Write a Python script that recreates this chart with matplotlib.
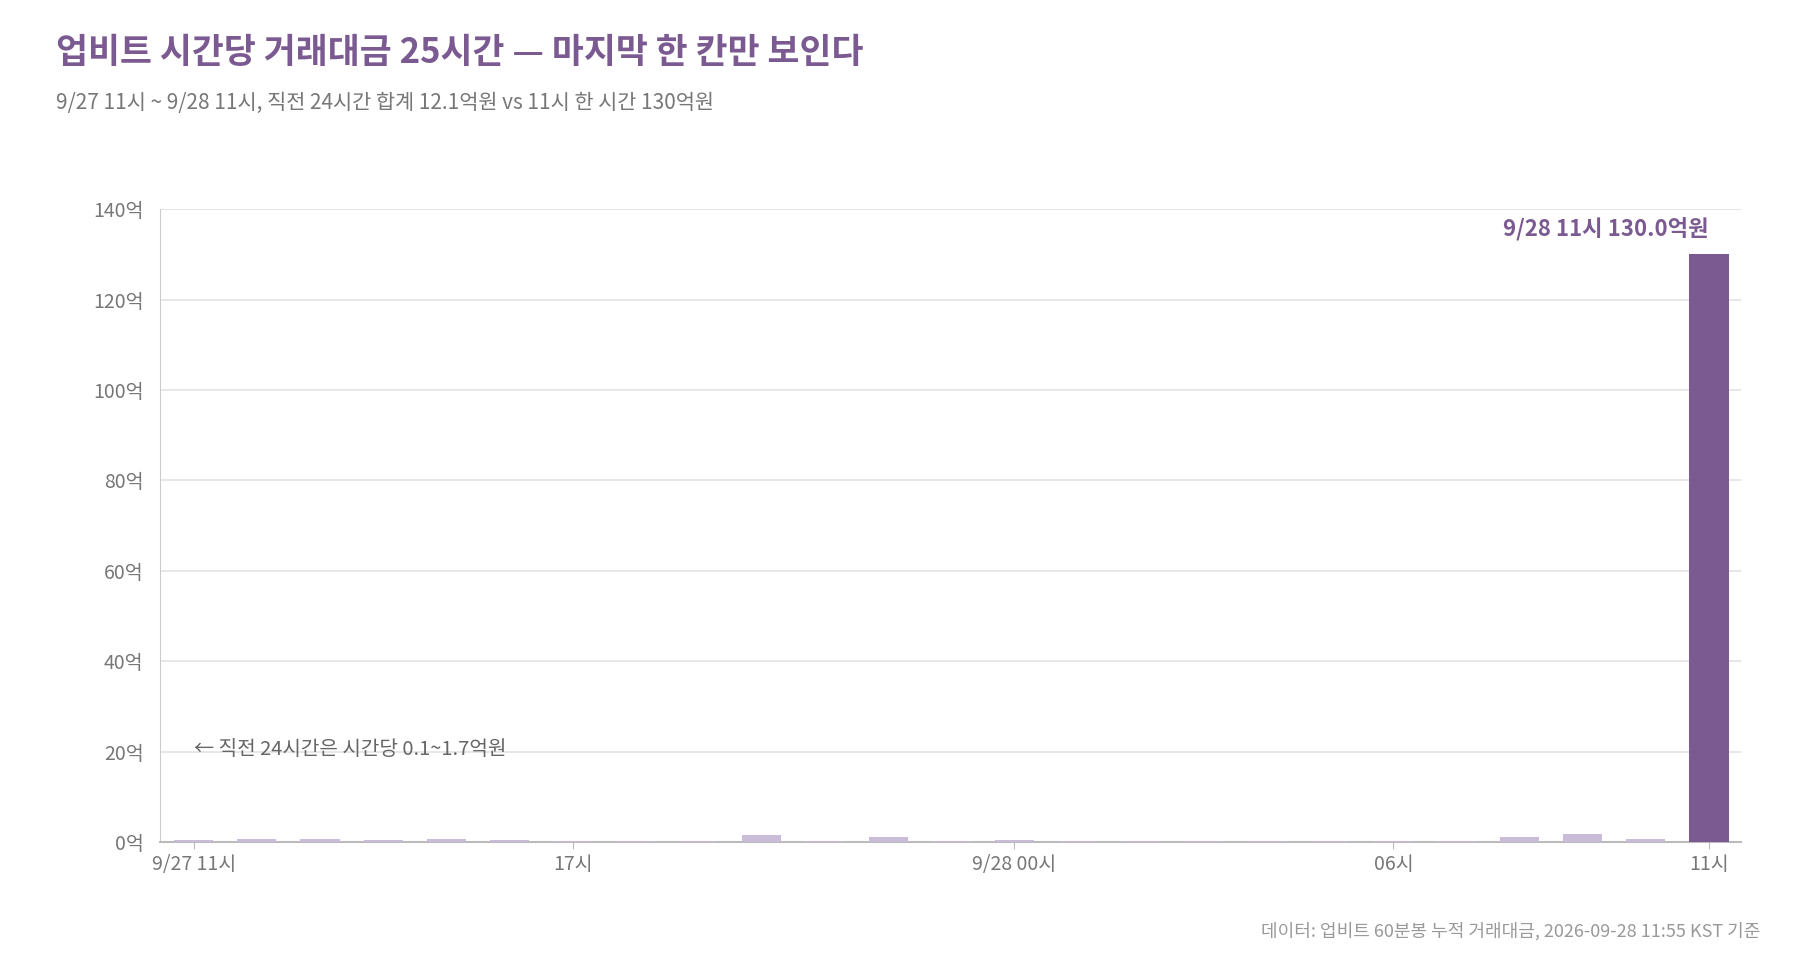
import matplotlib
matplotlib.use("Agg")
import matplotlib.pyplot as plt

plt.rcParams['font.family'] = ['Noto Sans CJK KR', 'DejaVu Sans']

hours = list(range(25))
values = [0.5, 0.7, 0.7, 0.4, 0.6, 0.4, 0.3, 0.3, 0.3, 1.5, 0.1, 1.1, 0.3, 0.5, 0.3,
          0.1, 0.1, 0.1, 0.1, 0.1, 0.3, 1.1, 1.7, 0.7, 130.0]
tick_pos = [0, 6, 13, 19, 24]
tick_labels = ['9/27 11시', '17시', '9/28 00시', '06시', '11시']
yticks = [0, 20, 40, 60, 80, 100, 120, 140]

purple = '#7B5A92'
light = '#C9BCD8'
grey = '#777777'

fig = plt.figure(figsize=(18, 9.6), dpi=100)
ax = fig.add_axes([0.089, 0.123, 0.878, 0.659])
colors = [light] * 24 + [purple]
ax.bar(hours, values, width=0.62, color=colors, zorder=3)
ax.set_xlim(-0.53, 24.5)
ax.set_ylim(0, 140)
ax.set_yticks(yticks)
ax.set_yticklabels([f'{v}억' for v in yticks])
ax.set_xticks(tick_pos)
ax.set_xticklabels(tick_labels)
ax.grid(axis='y', color='#E3E3E3', linewidth=1.2, zorder=0)
for s in ['top', 'right']:
    ax.spines[s].set_visible(False)
ax.spines['left'].set_color('#CCCCCC')
ax.spines['bottom'].set_color('#BBBBBB')
ax.spines['bottom'].set_linewidth(1.5)
ax.tick_params(axis='y', length=0, labelsize=14, labelcolor=grey, pad=12)
ax.tick_params(axis='x', length=5, color='#BBBBBB', labelsize=14, labelcolor=grey, pad=4)

ax.text(24, 133, '9/28 11시 130.0억원', ha='right', va='bottom', fontsize=16,
        fontweight='bold', color=purple)
ax.text(0, 20.5, '← 직전 24시간은 시간당 0.1~1.7억원', ha='left', va='center',
        fontsize=14.5, color='#666666')

fig.text(0.031, 0.945, '업비트 시간당 거래대금 25시간 — 마지막 한 칸만 보인다', fontsize=25,
         fontweight='bold', color=purple, va='center')
fig.text(0.031, 0.893, '9/27 11시 ~ 9/28 11시, 직전 24시간 합계 12.1억원 vs 11시 한 시간 130억원',
         fontsize=15, color=grey, va='center')
fig.text(0.978, 0.03, '데이터: 업비트 60분봉 누적 거래대금, 2026-09-28 11:55 KST 기준',
         fontsize=13, color='#999999', ha='right', va='center')
fig.savefig('out.png', dpi=100, facecolor='white')
